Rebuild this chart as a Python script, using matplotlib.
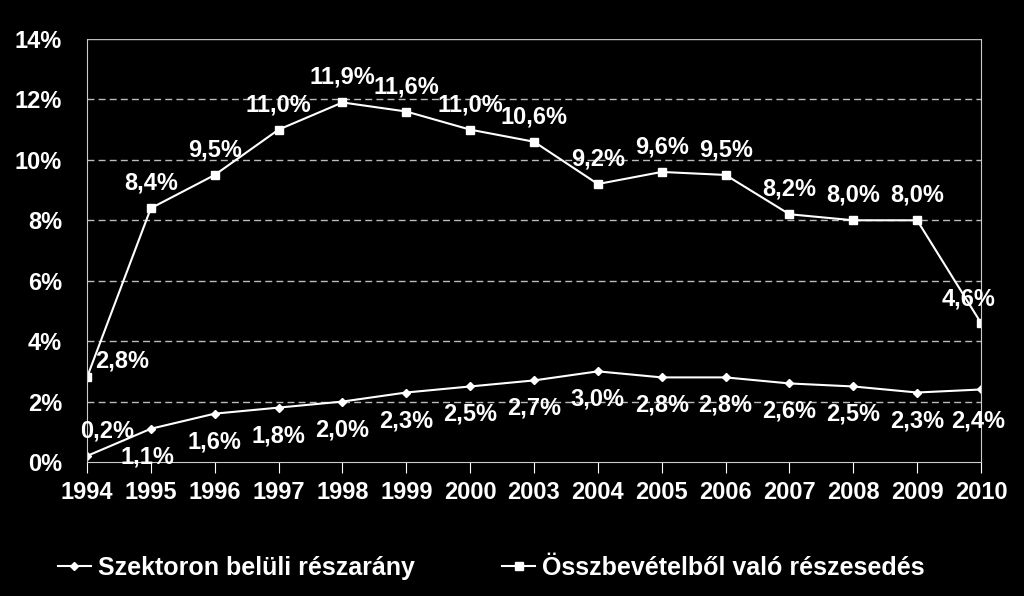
import matplotlib
matplotlib.use("Agg")
import matplotlib.pyplot as plt
import numpy as np

years = ["1994", "1995", "1996", "1997", "1998", "1999", "2000", "2003",
         "2004", "2005", "2006", "2007", "2008", "2009", "2010"]
szektor = [0.2, 1.1, 1.6, 1.8, 2.0, 2.3, 2.5, 2.7, 3.0, 2.8, 2.8, 2.6, 2.5, 2.3, 2.4]
ossz = [2.8, 8.4, 9.5, 11.0, 11.9, 11.6, 11.0, 10.6, 9.2, 9.6, 9.5, 8.2, 8.0, 8.0, 4.6]
yticks = [0, 2, 4, 6, 8, 10, 12, 14]

plt.rcParams['font.family'] = ['Liberation Sans Narrow', 'Liberation Sans', 'DejaVu Sans']
plt.rcParams['font.weight'] = 'bold'
fs = 17

fig = plt.figure(figsize=(10.24, 5.96), dpi=100, facecolor='black')
ax = fig.add_axes([87/1024, 1 - 462/596, (981-87)/1024, (462-39)/596])
ax.set_facecolor('black')

x = np.arange(len(years))
ax.plot(x, szektor, color='white', lw=1.5, marker='D', ms=4, label='Szektoron belüli részarány')
ax.plot(x, ossz, color='white', lw=1.5, marker='s', ms=6, label='Összbevételből való részesedés')

ax.set_xlim(0, len(years) - 1)
ax.set_ylim(0, 14)
ax.set_yticks(yticks)
ax.set_yticklabels([f"{t}%" for t in yticks])
ax.set_xticks(x)
ax.set_xticklabels(years)
for t in yticks[1:-1]:
    ax.axhline(t, color='#bbbbbb', lw=1, ls=(0, (5, 3)), zorder=0)
ax.axhline(14, color='#bbbbbb', lw=1, zorder=0)

for s in ['left', 'right', 'bottom']:
    ax.spines[s].set_color('#cccccc')
ax.spines['top'].set_visible(False)
ax.tick_params(axis='x', colors='white', length=8, direction='out', labelsize=fs, pad=6)
ax.tick_params(axis='y', colors='white', length=0, labelsize=fs, pad=18)

fmt = lambda v: f"{v:.1f}%".replace('.', ',')

# upper series labels
for i, v in enumerate(ossz):
    dx, dy = 0, 25
    if i == 0:
        dx, dy = 35, 16
    if i == len(ossz) - 1:
        dx, dy = -12, 24
    ax.annotate(fmt(v), (x[i], v), xytext=(dx, dy), textcoords='offset pixels',
                ha='center', va='center', color='white', fontsize=fs)

# lower series labels
for i, v in enumerate(szektor):
    dx, dy = 0, -28
    if i == 0:
        dx, dy = 20, 25
    if i == 1:
        dx, dy = -3, -28
    if i == len(szektor) - 1:
        dx, dy = -3, -32
    ax.annotate(fmt(v), (x[i], v), xytext=(dx, dy), textcoords='offset pixels',
                ha='center', va='center', color='white', fontsize=fs)

leg = fig.legend(loc='center', bbox_to_anchor=(0.48, 1 - 568/596), ncol=2, frameon=False,
                 fontsize=fs + 1, labelcolor='white', handlelength=1.3, columnspacing=3.5,
                 handletextpad=0.3)

fig.savefig('out.png', dpi=100, facecolor='black')
